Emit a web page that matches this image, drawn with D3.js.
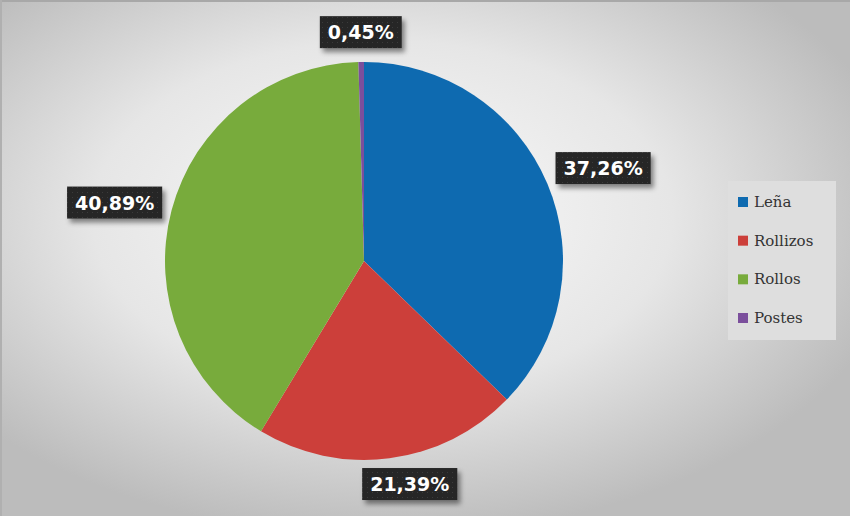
<!DOCTYPE html>
<html><head><meta charset="utf-8">
<script src="https://cdn.jsdelivr.net/npm/d3@7"></script>
<style>body{margin:0;padding:0;overflow:hidden;background:#fff}</style>
</head><body>
<script>
const categories = ["Leña", "Rollizos", "Rollos", "Postes"];
const values = [37.26, 21.39, 40.89, 0.45];
const labels = ["37,26%", "21,39%", "40,89%", "0,45%"];
const colors = ["#0e6ab0", "#cc3f3a", "#78ab3c", "#7b4f9c"];

const W = 850, H = 516;
const svg = d3.select("body").append("svg").attr("width", W).attr("height", H);
const defs = svg.append("defs");
const rg = defs.append("radialGradient").attr("id", "bg")
  .attr("cx", "0.45").attr("cy", "0.42").attr("r", "0.62");
rg.append("stop").attr("offset", "0").attr("stop-color", "#fbfbfb");
rg.append("stop").attr("offset", "0.55").attr("stop-color", "#e6e6e6");
rg.append("stop").attr("offset", "1").attr("stop-color", "#bcbcbc");
const f = defs.append("filter").attr("id", "sh").attr("x", "-20%").attr("y", "-30%").attr("width", "150%").attr("height", "180%");
f.append("feDropShadow").attr("dx", 3).attr("dy", 4).attr("stdDeviation", 2.5).attr("flood-color", "#000").attr("flood-opacity", 0.45);
const pat = defs.append("pattern").attr("id", "dots").attr("width", 5).attr("height", 5).attr("patternUnits", "userSpaceOnUse");
pat.append("rect").attr("width", 5).attr("height", 5).attr("fill", "#262626");
pat.append("rect").attr("x", 2).attr("y", 2).attr("width", 1).attr("height", 1).attr("fill", "#3a3a3a");

svg.append("rect").attr("width", W).attr("height", H).attr("fill", "url(#bg)");
svg.append("rect").attr("x", 0).attr("y", 0).attr("width", W).attr("height", 2).attr("fill", "#a8a8a8");
svg.append("rect").attr("x", 0).attr("y", 0).attr("width", 2).attr("height", H).attr("fill", "#b0b0b0");

const cx = 364, cy = 261, R = 199;
const pie = d3.pie().sort(null).value(d => d)(values);
const arc = d3.arc().innerRadius(0).outerRadius(R);
const g = svg.append("g").attr("transform", `translate(${cx},${cy})`);
g.selectAll("path").data(pie).enter().append("path")
  .attr("d", arc).attr("fill", (d, i) => colors[i]);

// label placement: radius factor along slice mid-angle plus a small nudge
const labelR = [1.25, 1.13, 1.27, 1.14];
const labelShift = [[10, 4], [17, 0], [-5, 6], [0, -2]];
const lg = svg.append("g");
pie.forEach((d, i) => {
  const a = (d.startAngle + d.endAngle) / 2;
  const x = cx + Math.sin(a) * R * labelR[i] + labelShift[i][0];
  const y = cy - Math.cos(a) * R * labelR[i] + labelShift[i][1];
  const t = lg.append("text").attr("x", x).attr("y", y)
    .attr("text-anchor", "middle").attr("dominant-baseline", "central")
    .attr("font-family", "DejaVu Sans, sans-serif").attr("font-weight", "bold")
    .attr("font-size", 19).attr("fill", "#fff").text(labels[i]);
  const bb = t.node().getBBox();
  lg.insert("rect", "text").attr("x", bb.x - 8).attr("y", y - 16).attr("width", bb.width + 16).attr("height", 32)
    .attr("fill", "url(#dots)").attr("filter", "url(#sh)");
});

// legend
const leg = svg.append("g");
leg.append("rect").attr("x", 728).attr("y", 181).attr("width", 108).attr("height", 159).attr("fill", "#dedede");
const ly = d3.scalePoint().domain(categories).range([202, 318]);
categories.forEach((c, i) => {
  leg.append("rect").attr("x", 738).attr("y", ly(c) - 5).attr("width", 10).attr("height", 10).attr("fill", colors[i]);
  leg.append("text").attr("x", 754).attr("y", ly(c)).attr("dominant-baseline", "central")
    .attr("font-family", "DejaVu Serif, serif").attr("font-size", 15).attr("fill", "#333").text(c);
});
</script>
</body></html>
